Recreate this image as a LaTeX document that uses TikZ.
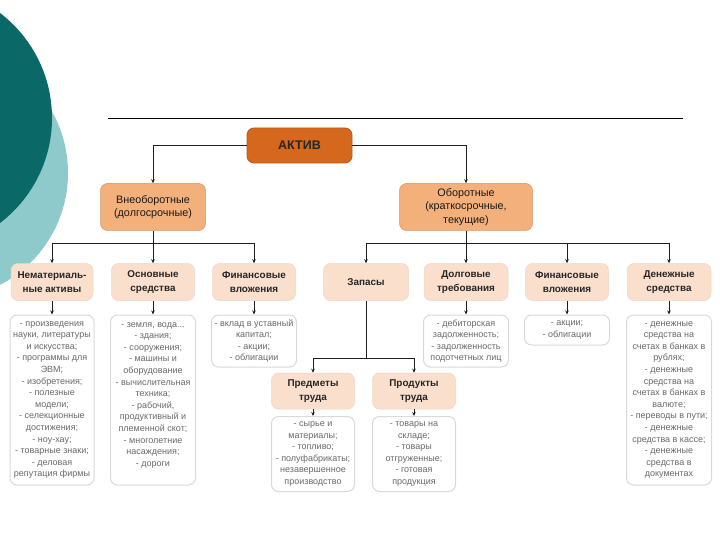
\documentclass[tikz,border=0pt]{standalone}
\usepackage{fontspec}
\setmainfont{Liberation Sans}
\usetikzlibrary{arrows.meta}
\definecolor{tealdark}{RGB}{10,104,102}
\definecolor{teallight}{RGB}{142,201,203}
\definecolor{aktivfill}{RGB}{214,104,30}
\definecolor{aktivdraw}{RGB}{184,86,24}
\definecolor{ltwofill}{RGB}{243,176,123}
\definecolor{lthreefill}{RGB}{250,223,205}
\definecolor{dtext}{RGB}{105,105,105}
\definecolor{lncol}{RGB}{30,30,30}
\begin{document}
\begin{tikzpicture}[x=1pt,y=-1pt,
 box/.style={rectangle, rounded corners=7pt, align=center, inner sep=0pt},
 sz/.style 2 args={minimum width=#1, minimum height=#2},
 topbox/.style={box, fill=aktivfill, draw=aktivdraw, line width=0.8pt, font=\fontsize{12.5}{14}\selectfont\bfseries, text=black!85},
 lvtwo/.style={box, fill=ltwofill, draw=ltwofill!85!black, line width=0.5pt, font=\fontsize{10.8}{13.5}\selectfont, text=black!90},
 lvthree/.style={box, fill=lthreefill, draw=lthreefill!90!gray, line width=0.5pt, font=\fontsize{9.9}{14}\selectfont\bfseries, text=black!85},
 det/.style={box, fill=white, draw=gray!30, line width=1pt, font=\fontsize{9}{11.6}\selectfont, text=dtext},
 conn/.style={draw=lncol, line width=0.8pt},
 arr/.style={conn, -{Stealth[length=4pt,width=3.5pt]}}
]
\useasboundingbox (0,0) rectangle (720,540);
\begin{scope}
 \clip (0,0) rectangle (720,540);
 \fill[teallight] (-58,173) circle[radius=126pt];
 \fill[tealdark] (-80,118) circle[radius=132pt];
\end{scope}
\draw[line width=1pt, black] (108,119) -- (683,119);

\node[topbox, sz={105}{35}] (aktiv) at (299.5,145.5) {АКТИВ};
\node[lvtwo, sz={105}{47}] (vne) at (153,207) {Внеоборотные\\(долгосрочные)};
\node[lvtwo, sz={133}{47}] (obor) at (466,207) {Оборотные\\(краткосрочные,\\текущие)};

\node[lvthree, sz={82}{37}] (nma) at (52,282) {Нематериаль-\\ные активы};
\node[lvthree, sz={83}{37}] (os) at (153,282) {Основные\\средства};
\node[lvthree, sz={83}{37}] (fvone) at (254,282) {Финансовые\\вложения};
\node[lvthree, sz={85}{37}] (zap) at (366,282) {Запасы};
\node[lvthree, sz={84}{37}] (dolg) at (466,282) {Долговые\\требования};
\node[lvthree, sz={83}{37}] (fvtwo) at (567,282) {Финансовые\\вложения};
\node[lvthree, sz={84}{37}] (den) at (669,282) {Денежные\\средства};

\node[lvthree, sz={83}{36}] (pred) at (313,391) {Предметы\\труда};
\node[lvthree, sz={83}{36}] (prod) at (414,391) {Продукты\\труда};

\node[det, sz={84}{170}] (dnma) at (52,400) {- произведения\\науки, литературы\\и искусства;\\- программы для\\ЭВМ;\\- изобретения;\\- полезные\\модели;\\- селекционные\\достижения;\\- ноу-хау;\\- товарные знаки;\\- деловая\\репутация фирмы};
\node[det, sz={85}{170}] (dos) at (153,400) {- земля, вода...\\- здания;\\- сооружения;\\- машины и\\оборудование\\- вычислительная\\техника;\\- рабочий,\\продуктивный и\\племенной скот;\\- многолетние\\насаждения;\\- дороги\\\mbox{}};
\node[det, sz={85}{52}] (dfvone) at (254,341) {- вклад в уставный\\капитал;\\- акции;\\- облигации};
\node[det, sz={85}{52}] (ddolg) at (466,341) {- дебиторская\\задолженность;\\- задолженность\\подотчетных лиц};
\node[det, sz={85}{30}] (dfvtwo) at (567,330) {- акции;\\- облигации};
\node[det, sz={85}{170}] (dden) at (669,400) {- денежные\\средства на\\счетах в банках в\\рублях;\\- денежные\\средства на\\счетах в банках в\\валюте;\\- переводы в пути;\\- денежные\\средства в кассе;\\- денежные\\средства в\\документах};
\node[det, sz={83}{75}] (dpred) at (313,454) {- сырье и\\материалы;\\- топливо;\\- полуфабрикаты;\\незавершенное\\производство};
\node[det, sz={83}{75}] (dprod) at (414,454) {- товары на\\складе;\\- товары\\отгруженные;\\- готовая\\продукция};

\coordinate (jone) at (153,243);
\coordinate (jtwo) at (466,243);
\coordinate (jthree) at (366,358);

\draw[arr] (aktiv.west) -| (vne.north);
\draw[arr] (aktiv.east) -| (obor.north);
\draw[arr] (vne.south) -- (os.north);
\draw[arr] (jone) -| (nma.north);
\draw[arr] (jone) -| (fvone.north);
\draw[arr] (obor.south) -- (dolg.north);
\draw[arr] (jtwo) -| (zap.north);
\draw[arr] (jtwo) -| (fvtwo.north);
\draw[arr] (jtwo) -| (den.north);
\draw[conn] (zap.south) -- (jthree);
\draw[arr] (jthree) -| (pred.north);
\draw[arr] (jthree) -| (prod.north);
\draw[arr] (nma.south) -- (dnma.north);
\draw[arr] (os.south) -- (dos.north);
\draw[arr] (fvone.south) -- (dfvone.north);
\draw[arr] (dolg.south) -- (ddolg.north);
\draw[arr] (fvtwo.south) -- (dfvtwo.north);
\draw[arr] (den.south) -- (dden.north);
\draw[arr] (pred.south) -- (dpred.north);
\draw[arr] (prod.south) -- (dprod.north);
\end{tikzpicture}
\end{document}
